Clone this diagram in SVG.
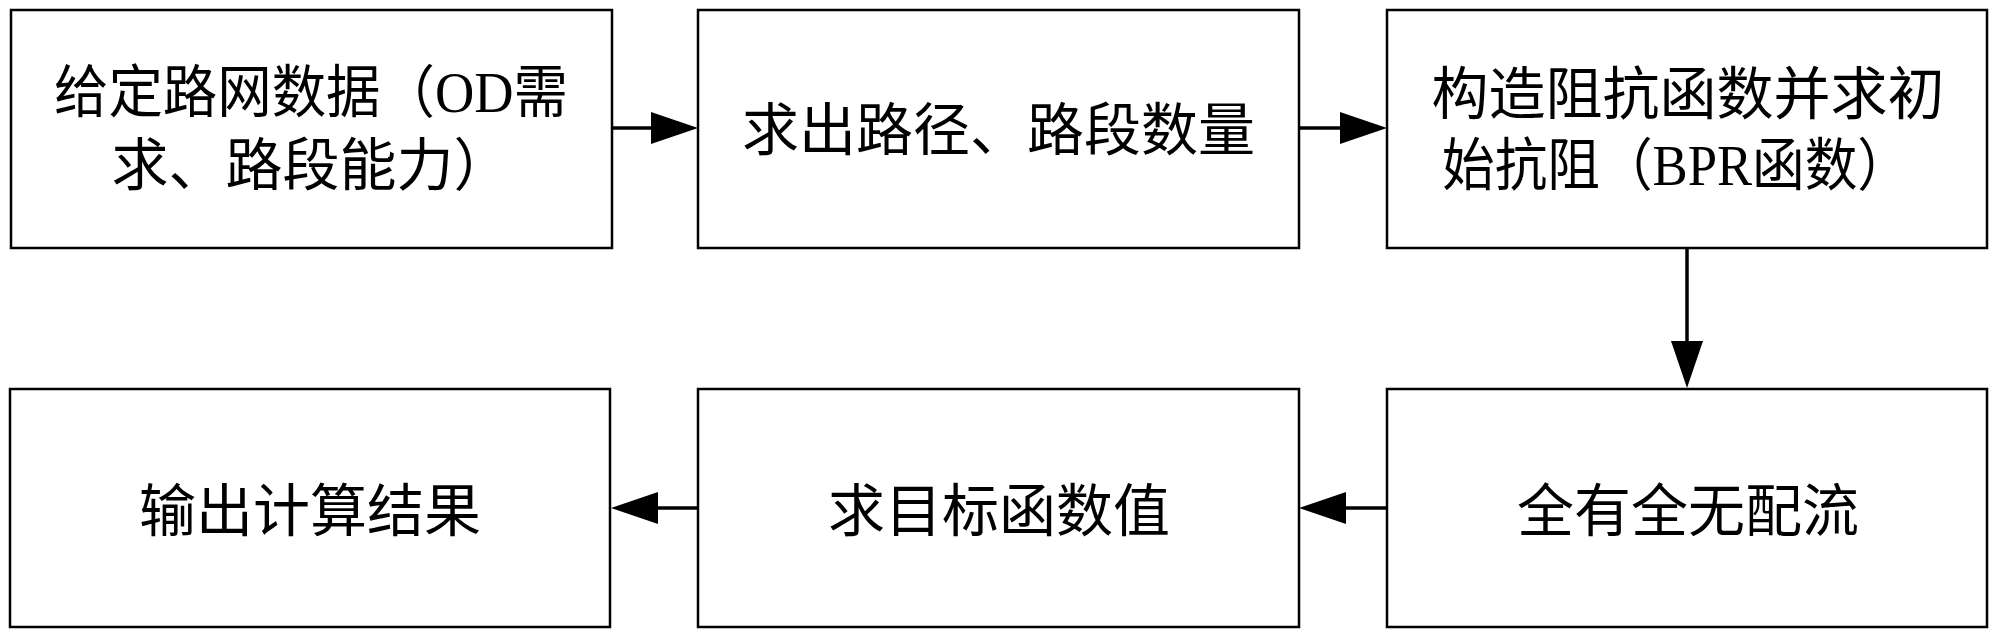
<svg xmlns="http://www.w3.org/2000/svg" width="2000" height="639" viewBox="0 0 2000 639">
<style>
.box{fill:#fff;stroke:#000;stroke-width:2.5}
.t{font-family:"Liberation Serif","Noto Sans CJK SC",serif;font-size:57px;fill:#000;text-anchor:middle}
.c{fill:none;stroke:#000;stroke-width:3.5}
</style>
<defs>
<marker id="ah" markerUnits="userSpaceOnUse" markerWidth="47" markerHeight="32" viewBox="0 0 47 32" refX="37" refY="16" orient="auto">
<path d="M0,0 L47,16 L0,32 Z" fill="#000"/>
</marker>
</defs>
<rect width="2000" height="639" fill="#fff"/>
<g id="n1">
<rect class="box" x="11" y="10" width="601" height="238"/>
<text class="t" x="311" y="112" textLength="514" lengthAdjust="spacingAndGlyphs">给定路网数据（OD需</text>
<text class="t" x="311" y="185">求、路段能力）</text>
</g>
<g id="n2">
<rect class="box" x="698" y="10" width="601" height="238"/>
<text class="t" x="998.5" y="150">求出路径、路段数量</text>
</g>
<g id="n3">
<rect class="box" x="1387" y="10" width="600" height="238"/>
<text class="t" x="1688" y="114">构造阻抗函数并求初</text>
<text class="t" x="1676" y="185" textLength="468" lengthAdjust="spacingAndGlyphs">始抗阻（BPR函数）</text>
</g>
<g id="n4">
<rect class="box" x="10" y="389" width="600" height="238"/>
<text class="t" x="310" y="531">输出计算结果</text>
</g>
<g id="n5">
<rect class="box" x="698" y="389" width="601" height="238"/>
<text class="t" x="999" y="531">求目标函数值</text>
</g>
<g id="n6">
<rect class="box" x="1387" y="389" width="600" height="238"/>
<text class="t" x="1688" y="531">全有全无配流</text>
</g>
<g id="connectors">
<line class="c" x1="612" y1="128" x2="688" y2="128" marker-end="url(#ah)"/>
<line class="c" x1="1299" y1="128" x2="1377" y2="128" marker-end="url(#ah)"/>
<line class="c" x1="1687" y1="248" x2="1687" y2="378" marker-end="url(#ah)"/>
<line class="c" x1="1387" y1="508" x2="1309" y2="508" marker-end="url(#ah)"/>
<line class="c" x1="698" y1="508" x2="621" y2="508" marker-end="url(#ah)"/>
</g>
</svg>
